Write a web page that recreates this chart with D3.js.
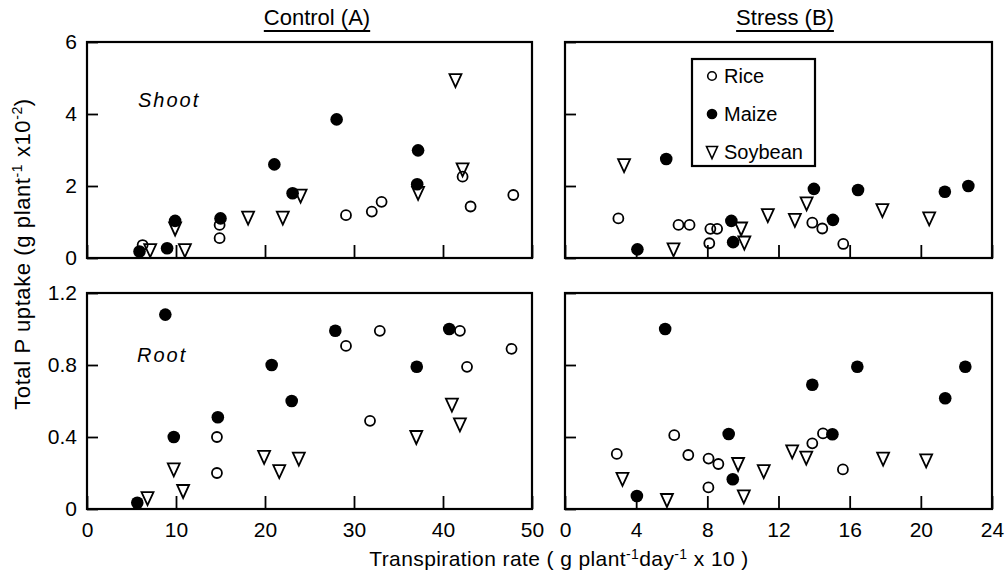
<!DOCTYPE html>
<html><head><meta charset="utf-8">
<script src="https://cdn.jsdelivr.net/npm/d3@7"></script>
<style>
body{margin:0;background:#fff;}
text{font-family:"Liberation Sans",Arial,sans-serif;fill:#000;}
</style></head>
<body><svg id="c" width="1007" height="577"></svg>
<script>
// ---- data ----
const xTicksControl = [0,10,20,30,40,50];
const xTicksStress = [0,4,8,12,16,20,24];
const yTicksShoot = [0,2,4,6];
const yTicksRoot = [0,0.4,0.8,1.2];
const yLabelsShoot = ["0","2","4","6"];
const yLabelsRoot = ["0","0.4","0.8","1.2"];
const legendNames = ["Rice","Maize","Soybean"];

const controlShootRice = [[6.25,0.36],[14.9,0.92],[14.9,0.55],[29.1,1.19],[32.0,1.29],[33.1,1.56],[42.2,2.26],[43.1,1.43],[47.9,1.75]];
const controlShootMaize = [[5.9,0.18],[9.0,0.27],[9.9,1.03],[15.0,1.1],[21.05,2.6],[23.1,1.8],[28.05,3.85],[37.2,2.99],[37.1,2.05]];
const controlShootSoy = [[7.1,0.22],[9.9,0.82],[11.0,0.22],[18.1,1.12],[22.0,1.12],[24.0,1.73],[37.2,1.81],[41.4,4.94],[42.2,2.46]];

const controlRootRice = [[14.6,0.40],[14.6,0.20],[29.1,0.906],[31.8,0.49],[32.9,0.99],[41.9,0.99],[42.7,0.79],[47.7,0.89]];
const controlRootMaize = [[5.65,0.035],[8.8,1.08],[9.75,0.40],[14.7,0.51],[20.75,0.80],[23.0,0.60],[27.9,0.99],[37.05,0.79],[40.7,1.0]];
const controlRootSoy = [[6.8,0.06],[9.75,0.22],[10.8,0.10],[19.9,0.29],[21.6,0.21],[23.8,0.28],[37.0,0.40],[41.0,0.58],[41.9,0.47]];

const stressShootRice = [[3.0,1.10],[6.38,0.92],[7.0,0.92],[8.17,0.81],[8.55,0.81],[8.11,0.41],[13.9,0.98],[14.46,0.82],[15.64,0.39]];
const stressShootMaize = [[4.07,0.24],[5.69,2.75],[9.35,1.03],[9.45,0.44],[13.99,1.92],[15.06,1.06],[16.47,1.89],[21.35,1.84],[22.67,2.0]];
const stressShootSoy = [[3.32,2.58],[6.1,0.24],[9.9,0.82],[10.08,0.43],[11.4,1.19],[12.92,1.06],[13.58,1.52],[17.84,1.33],[20.47,1.10]];

const stressRootRice = [[2.91,0.306],[6.14,0.41],[6.93,0.30],[8.07,0.28],[8.62,0.25],[8.06,0.12],[13.9,0.365],[14.5,0.42],[15.62,0.22]];
const stressRootMaize = [[4.04,0.072],[5.63,1.0],[9.2,0.417],[9.43,0.165],[13.9,0.69],[15.03,0.415],[16.43,0.79],[21.37,0.615],[22.5,0.79]];
const stressRootSoy = [[3.23,0.167],[5.73,0.05],[9.73,0.25],[10.05,0.07],[11.17,0.21],[12.77,0.32],[13.56,0.285],[17.88,0.28],[20.3,0.27]];

// ---- drawing ----
const svg = d3.select("#c");
const triPath = "M-6,-6L6,-6L0,7Z";
const triPathSmall = "M-5.5,-5.5L5.5,-5.5L0,6.5Z";

function panel(cfg){
  const x = d3.scaleLinear().domain([cfg.xTicks[0], cfg.xTicks[cfg.xTicks.length-1]]).range([cfg.x0, cfg.x1]);
  const y = d3.scaleLinear().domain([cfg.yTicks[0], cfg.yTicks[cfg.yTicks.length-1]]).range([cfg.y1, cfg.y0]);
  const g = svg.append("g");

  const xa = d3.axisBottom(x).tickValues(cfg.xTicks).tickSizeInner(-13).tickSizeOuter(0).tickPadding(13)
    .tickFormat(cfg.showX ? d3.format("d") : () => "");
  const xg = g.append("g").attr("transform", `translate(0,${cfg.y1})`).call(xa);
  const ya = d3.axisLeft(y).tickValues(cfg.yTicks).tickSizeInner(-11).tickSizeOuter(0).tickPadding(10)
    .tickFormat((d,i) => cfg.yLabels ? cfg.yLabels[i] : "");
  const yg = g.append("g").attr("transform", `translate(${cfg.x0},0)`).call(ya);
  [xg,yg].forEach(a => {
    a.select(".domain").remove();
    a.selectAll("line").attr("stroke","#000").attr("stroke-width",1.8);
    a.selectAll("text").style("font-size","21px").attr("fill","#000");
  });

  g.append("rect").attr("x",cfg.x0).attr("y",cfg.y0).attr("width",cfg.x1-cfg.x0).attr("height",cfg.y1-cfg.y0)
    .attr("fill","none").attr("stroke","#000").attr("stroke-width",2.2);

  g.selectAll(".soy").data(cfg.soy).join("path").attr("d",triPath)
    .attr("transform",d=>`translate(${x(d[0])},${y(d[1])})`)
    .attr("fill","none").attr("stroke","#000").attr("stroke-width",1.8);
  g.selectAll(".rice").data(cfg.rice).join("circle")
    .attr("cx",d=>x(d[0])).attr("cy",d=>y(d[1])).attr("r",5)
    .attr("fill","none").attr("stroke","#000").attr("stroke-width",1.8);
  g.selectAll(".maize").data(cfg.maize).join("circle")
    .attr("cx",d=>x(d[0])).attr("cy",d=>y(d[1])).attr("r",6.3).attr("fill","#000");

  if(cfg.label){
    g.append("text").attr("x",cfg.label[1]).attr("y",cfg.label[2]).text(cfg.label[0])
      .style("font-size","20px").style("font-style","italic").style("letter-spacing","2px");
  }
  return {x,y,g};
}

const LX0=87, LX1=532, RX0=565, RX1=992, TY0=42, TY1=258, BY0=293, BY1=509;

panel({x0:LX0,x1:LX1,y0:TY0,y1:TY1,xTicks:xTicksControl,yTicks:yTicksShoot,yLabels:yLabelsShoot,showX:false,
  rice:controlShootRice,maize:controlShootMaize,soy:controlShootSoy,label:["Shoot",138,107]});
panel({x0:LX0,x1:LX1,y0:BY0,y1:BY1,xTicks:xTicksControl,yTicks:yTicksRoot,yLabels:yLabelsRoot,showX:true,
  rice:controlRootRice,maize:controlRootMaize,soy:controlRootSoy,label:["Root",137,362]});
panel({x0:RX0,x1:RX1,y0:TY0,y1:TY1,xTicks:xTicksStress,yTicks:yTicksShoot,yLabels:null,showX:false,
  rice:stressShootRice,maize:stressShootMaize,soy:stressShootSoy});
panel({x0:RX0,x1:RX1,y0:BY0,y1:BY1,xTicks:xTicksStress,yTicks:yTicksRoot,yLabels:null,showX:true,
  rice:stressRootRice,maize:stressRootMaize,soy:stressRootSoy});

// titles with underline
function title(txt, cx, y){
  const t = svg.append("text").attr("x",cx).attr("y",y).attr("text-anchor","middle").style("font-size","22px").text(txt);
  const w = t.node().getComputedTextLength();
  svg.append("line").attr("x1",cx-w/2).attr("x2",cx+w/2).attr("y1",y+6).attr("y2",y+6).attr("stroke","#000").attr("stroke-width",2.2);
}
title("Control (A)", 317, 25);
title("Stress (B)", 785, 25);

// legend
const lg = svg.append("g");
lg.append("rect").attr("x",692).attr("y",59).attr("width",123).attr("height",107)
  .attr("fill","#fff").attr("stroke","#000").attr("stroke-width",2.2);
const legY = [76,114,152];
lg.append("circle").attr("cx",712).attr("cy",legY[0]).attr("r",4.3).attr("fill","none").attr("stroke","#000").attr("stroke-width",1.6);
lg.append("circle").attr("cx",712).attr("cy",legY[1]).attr("r",5.3).attr("fill","#000");
lg.append("path").attr("d",triPathSmall).attr("transform",`translate(712,${legY[2]})`).attr("fill","none").attr("stroke","#000").attr("stroke-width",1.6);
legendNames.forEach((n,i)=>{
  lg.append("text").attr("x",724).attr("y",legY[i]+7).style("font-size","20px").text(n);
});

// axis titles
const yt = svg.append("text").attr("transform","translate(30,254) rotate(-90)").attr("text-anchor","middle")
  .style("font-size","22px").style("letter-spacing","0.6px");
yt.append("tspan").text("Total P uptake (g plant");
yt.append("tspan").attr("dy",-8).style("font-size","14px").text("-1");
yt.append("tspan").attr("dy",8).text(" x10");
yt.append("tspan").attr("dy",-8).style("font-size","14px").text("-2");
yt.append("tspan").attr("dy",8).text(")");

const xt = svg.append("text").attr("x",559).attr("y",566).attr("text-anchor","middle")
  .style("font-size","21px").style("letter-spacing","0.4px");
xt.append("tspan").text("Transpiration rate ( g plant");
xt.append("tspan").attr("dy",-7).style("font-size","14px").text("-1");
xt.append("tspan").attr("dy",7).text("day");
xt.append("tspan").attr("dy",-7).style("font-size","14px").text("-1");
xt.append("tspan").attr("dy",7).text(" x 10 )");
</script></body></html>
